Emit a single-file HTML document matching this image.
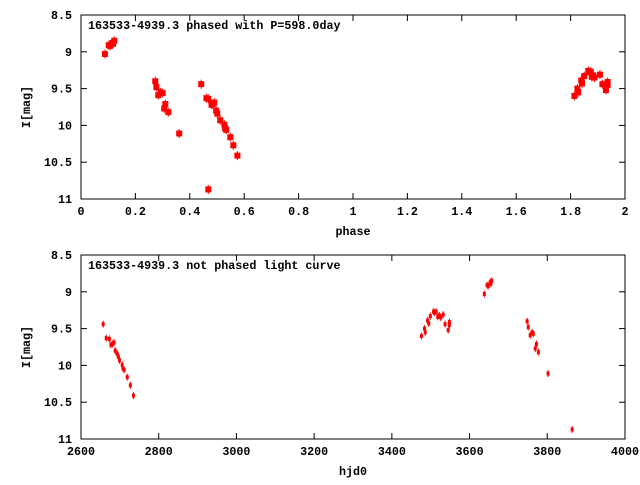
<!DOCTYPE html>
<html><head><meta charset="utf-8"><style>
body{margin:0;background:#fff}
svg text{font-family:"Liberation Mono",monospace;font-size:11.7px;font-weight:bold;fill:#000}
</style></head><body>
<svg id="c" width="640" height="480" xmlns="http://www.w3.org/2000/svg"></svg>
<script>
const topPhase=[0.088,0.102,0.107,0.115,0.118,0.122,0.273,0.277,0.284,0.292,0.300,0.306,0.310,0.321,0.361,0.442,0.461,0.468,0.480,0.484,0.490,0.497,0.501,0.512,0.527,0.530,0.534,0.549,0.560,0.575,0.468,1.814,1.825,1.828,1.839,1.842,1.850,1.865,1.870,1.874,1.878,1.883,1.888,1.908,1.917,1.930,1.936,1.936];
const topMag=[9.03,8.91,8.92,8.88,8.89,8.85,9.40,9.48,9.59,9.55,9.56,9.77,9.71,9.82,10.11,9.44,9.63,9.64,9.72,9.71,9.69,9.80,9.84,9.93,9.99,10.04,10.06,10.16,10.27,10.41,10.87,9.60,9.50,9.55,9.39,9.43,9.33,9.26,9.28,9.27,9.34,9.32,9.35,9.31,9.44,9.52,9.41,9.45];
const botHjd=[2657,2665,2673,2677,2681,2685,2688,2693,2696,2699,2706,2708,2711,2719,2727,2735,3476,3484,3486,3492,3495,3499,3507,3510,3514,3518,3522,3526,3532,3537,3545,3548,3548,3638,3645,3648,3653,3655,3657,3748,3751,3756,3761,3764,3769,3772,3777,3802,3864];
const botMag=[9.44,9.63,9.64,9.72,9.71,9.69,9.80,9.84,9.88,9.93,9.99,10.04,10.06,10.16,10.27,10.41,9.60,9.50,9.55,9.39,9.43,9.33,9.27,9.28,9.27,9.34,9.32,9.35,9.31,9.44,9.52,9.41,9.45,9.03,8.91,8.92,8.87,8.89,8.85,9.40,9.48,9.59,9.55,9.57,9.77,9.71,9.82,10.11,10.87];
const topXTicks=[0,0.2,0.4,0.6,0.8,1,1.2,1.4,1.6,1.8,2];
const topXLabels=["0","0.2","0.4","0.6","0.8","1","1.2","1.4","1.6","1.8","2"];
const botXTicks=[2600,2800,3000,3200,3400,3600,3800,4000];
const yTicks=[8.5,9,9.5,10,10.5,11];
const yLabels=["8.5","9","9.5","10","10.5","11"];
const svg=document.getElementById('c');
const NS="http://www.w3.org/2000/svg";
function mk(t,a,p){const e=document.createElementNS(NS,t);for(const k in a)e.setAttribute(k,a[k]);(p||svg).appendChild(e);return e;}
function panel(name,x0,x1,top,xTicks,xLabels,xs,ys,title,xtitle,big){
  const L=81,R=625,T=top,B=top+184;
  const sx=v=>L+(v-x0)/(x1-x0)*(R-L);
  const sy=v=>T+(v-8.5)/2.5*(B-T);
  const g=mk('g',{});
  
  
  const fr=mk('rect',{x:L,y:T,width:R-L,height:B-T,fill:'none',stroke:'#000','stroke-width':1},g);
  
  
  xTicks.forEach((v,i)=>{const x=sx(v);
    mk('line',{x1:x,y1:B,x2:x,y2:B-6,stroke:'#000'},g);
    mk('line',{x1:x,y1:T,x2:x,y2:T+6,stroke:'#000'},g);
    const t=mk('text',{x:x,y:B+16,'text-anchor':'middle'},g);t.textContent=xLabels[i];
    
    });
  yTicks.forEach((v,i)=>{const y=sy(v);
    mk('line',{x1:L,y1:y,x2:L+6,y2:y,stroke:'#000'},g);
    mk('line',{x1:R,y1:y,x2:R-6,y2:y,stroke:'#000'},g);
    const t=mk('text',{x:72,y:y+4,'text-anchor':'end'},g);t.textContent=yLabels[i];
    
    });
  const tt=mk('text',{x:88,y:T+14},g);tt.textContent=title;
  
  
  const xt=mk('text',{x:(L+R)/2,y:B+36,'text-anchor':'middle'},g);xt.textContent=xtitle;
  
  
  const yt=mk('text',{x:30,y:(T+B)/2,'text-anchor':'middle',transform:`rotate(-90 30 ${(T+B)/2})`},g);yt.textContent='I[mag]';
  
  
  xs.forEach((v,i)=>{const x=sx(v),y=sy(ys[i]);
    const p=mk('g',{},g);
    
    
    if(big){mk('rect',{x:x-3,y:y-3,width:6,height:6,fill:'#f00'},p);mk('line',{x1:x,y1:y-4.5,x2:x,y2:y+4.5,stroke:'#f00'},p);}
    else{mk('rect',{x:x-1.5,y:y-2,width:3,height:4,fill:'#f00'},p);mk('line',{x1:x,y1:y-3.5,x2:x,y2:y+3.5,stroke:'#f00'},p);}
  });
}
panel('phased-plot',0,2,15,topXTicks,topXLabels,topPhase,topMag,'163533-4939.3 phased with P=598.0day','phase',true);
panel('light-curve-plot',2600,4000,255,botXTicks,botXTicks.map(String),botHjd,botMag,'163533-4939.3 not phased light curve','hjd0',false);
</script>
</body></html>
